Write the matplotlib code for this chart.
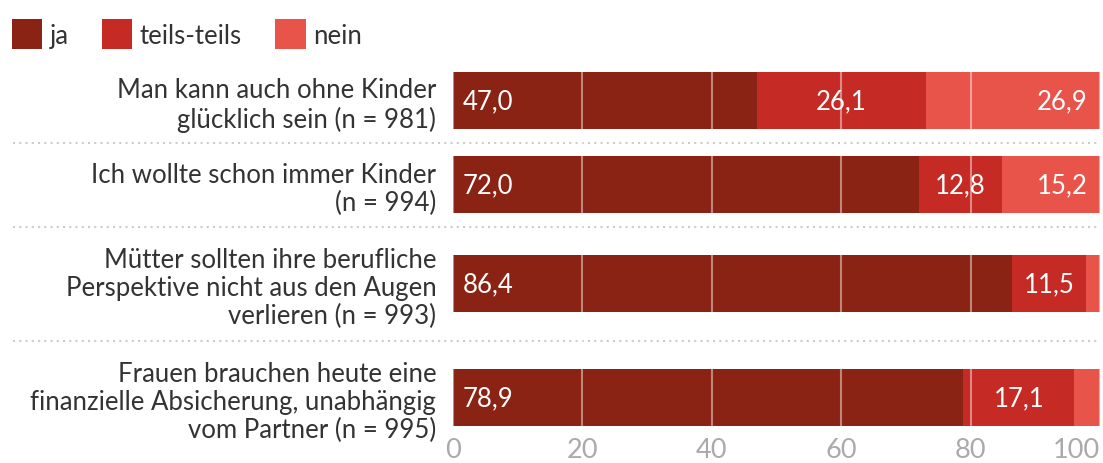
import matplotlib
matplotlib.use("Agg")
import matplotlib.pyplot as plt
from matplotlib.patches import Patch
from matplotlib.transforms import blended_transform_factory

LABELS = [
    "Man kann auch ohne Kinder\nglücklich sein (n = 981)",
    "Ich wollte schon immer Kinder\n(n = 994)",
    "Mütter sollten ihre berufliche\nPerspektive nicht aus den Augen\nverlieren (n = 993)",
    "Frauen brauchen heute eine\nfinanzielle Absicherung, unabhängig\nvom Partner (n = 995)",
]
JA = [47.0, 72.0, 86.4, 78.9]
TEILS = [26.1, 12.8, 11.5, 17.1]
NEIN = [26.9, 15.2, 2.1, 4.0]
SERIES = ["ja", "teils-teils", "nein"]
TICKS = [0, 20, 40, 60, 80, 100]

COLORS = ["#8A2314", "#C62A25", "#E8534A"]
FONT = "Lato"
FS = 18.5
W, H = 1103, 464


def fmt(v: float) -> str:
    return f"{v:.1f}".replace(".", ",")


def main() -> None:
    plt.rcParams["font.family"] = [FONT, "DejaVu Sans"]
    fig = plt.figure(figsize=(W / 100, H / 100), dpi=100)

    # axes in pixel-like units: y grows downward
    top, bottom, left, right = 59.5, 437, 453, 1100
    ax = fig.add_axes([left / W, 1 - bottom / H, (right - left) / W, (bottom - top) / H])

    # row height depends on how many lines the label has
    heights = [84 + 30 * (lab.count("\n") - 1) for lab in LABELS]
    edges = [top]
    for h in heights:
        edges.append(edges[-1] + h)
    centers = [(edges[i] + edges[i + 1]) / 2 for i in range(len(LABELS))]

    bar_h = 57
    lefts = [0.0] * len(LABELS)
    vkw = dict(va="center", color="white", fontsize=FS)
    for name, vals, color in zip(SERIES, [JA, TEILS, NEIN], COLORS):
        ax.barh(centers, vals, left=lefts, height=bar_h, color=color, label=name, zorder=1)
        for c, l, v in zip(centers, lefts, vals):
            if v < 5:
                continue
            if name == "ja":
                ax.annotate(fmt(v), (l, c), xytext=(7, 0), textcoords="offset points",
                            ha="left", **vkw)
            elif name == "teils-teils":
                ax.text(l + v / 2, c, fmt(v), ha="center", **vkw)
            else:
                ax.annotate(fmt(v), (l + v, c), xytext=(-9, 0), textcoords="offset points",
                            ha="right", **vkw)
        lefts = [a + b for a, b in zip(lefts, vals)]

    # dotted separators between rows
    trans = blended_transform_factory(ax.transAxes, ax.transData)
    x0 = (13 - left) / (right - left)
    for y in edges[1:-1]:
        ax.plot([x0, 1], [y, y], transform=trans, clip_on=False, color="#cccccc",
                linestyle=(0, (1, 2)), linewidth=1.5, zorder=0)

    ax.set_xlim(0, 100)
    ax.set_ylim(bottom, top)
    ax.set_xticks(TICKS)
    ax.set_xticklabels([str(t) for t in TICKS])
    ax.get_xticklabels()[-1].set_ha("right")
    ax.set_yticks(centers)
    ax.set_yticklabels(LABELS)
    for lab in ax.get_yticklabels():
        lab.set_linespacing(1.15)
    ax.tick_params(axis="x", length=0, labelsize=19.5, labelcolor="#aaaaaa", pad=1)
    ax.tick_params(axis="y", length=0, labelsize=FS, labelcolor="#333333", pad=12)

    ax.set_axisbelow(False)
    ax.grid(axis="x", color="white", alpha=0.45, linewidth=1.5)
    for s in ax.spines.values():
        s.set_visible(False)

    handles = [Patch(facecolor=c, edgecolor="none") for c in COLORS]
    fig.legend(handles, SERIES, loc="upper left", bbox_to_anchor=(-6 / W, 1 - 2 / H),
               ncol=3, frameon=False, fontsize=FS, labelcolor="#333333",
               handlelength=1.17, handleheight=1.45, handletextpad=0.3,
               columnspacing=1.3, borderpad=0.2)

    fig.savefig("out.png", dpi=100)
    plt.close(fig)


if __name__ == "__main__":
    main()
